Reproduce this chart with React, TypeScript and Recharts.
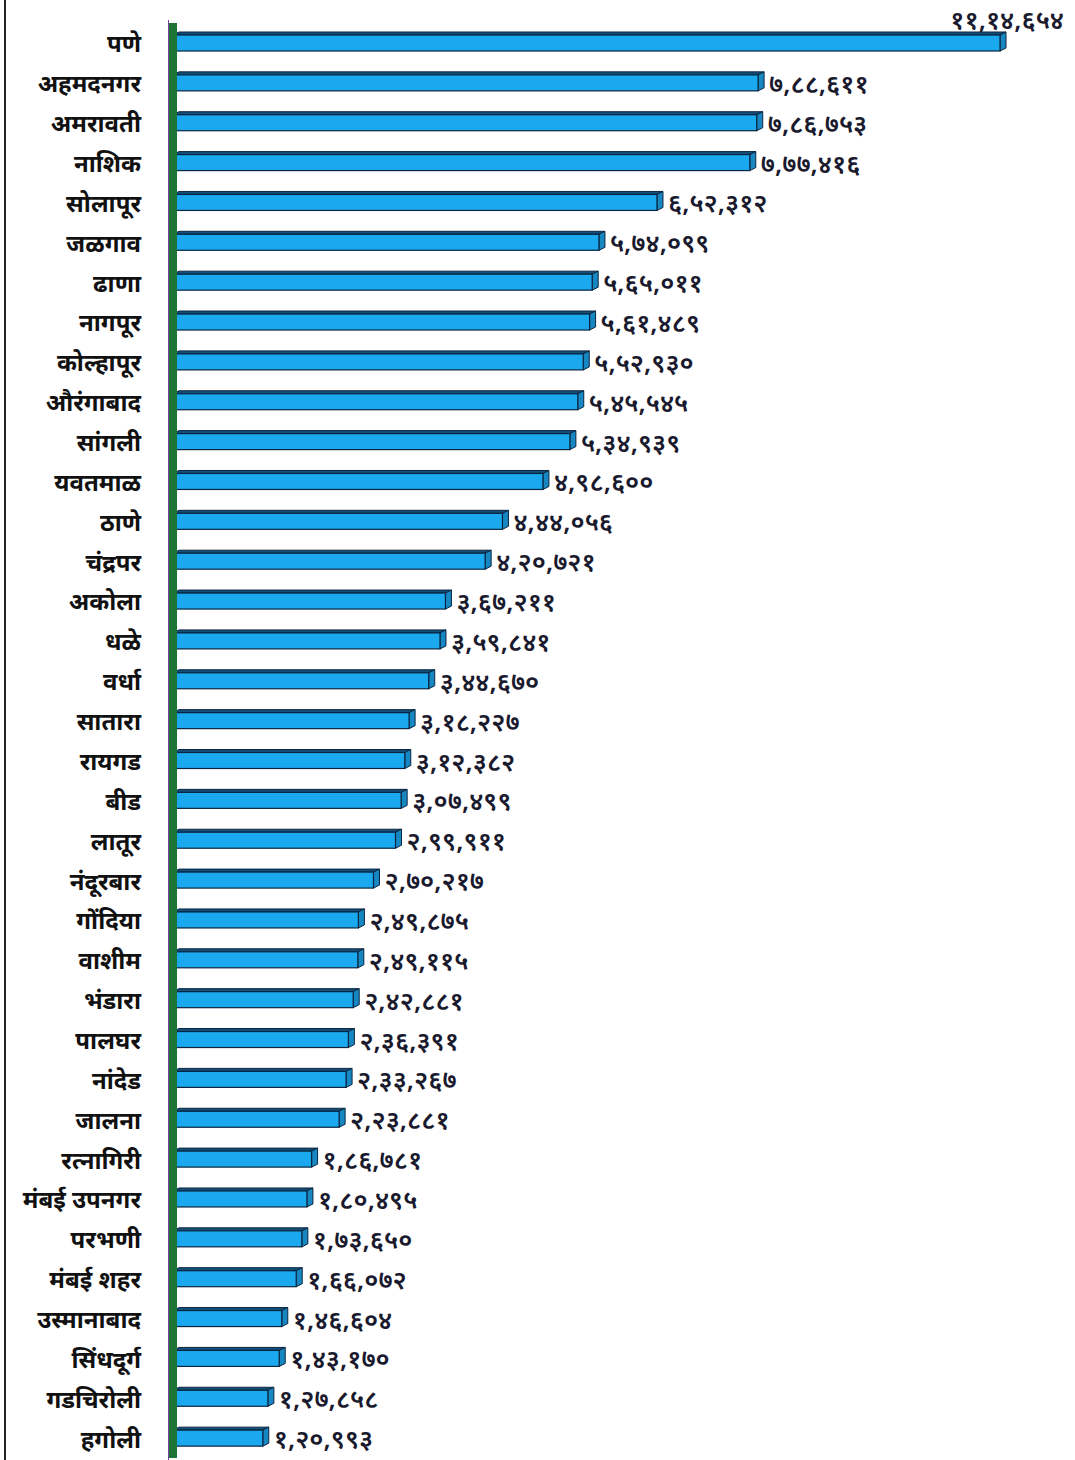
import React from 'react'
import { BarChart, Bar, XAxis, YAxis, LabelList } from 'recharts'

// जिल्हानिहाय आकडे (as printed on the chart)
const districts = [
  'पणे', 'अहमदनगर', 'अमरावती', 'नाशिक', 'सोलापूर', 'जळगाव', 'ढाणा', 'नागपूर', 'कोल्हापूर',
  'औरंगाबाद', 'सांगली', 'यवतमाळ', 'ठाणे', 'चंद्रपर', 'अकोला', 'धळे', 'वर्धा', 'सातारा',
  'रायगड', 'बीड', 'लातूर', 'नंदूरबार', 'गोंदिया', 'वाशीम', 'भंडारा', 'पालघर', 'नांदेड',
  'जालना', 'रत्नागिरी', 'मंबई उपनगर', 'परभणी', 'मंबई शहर', 'उस्मानाबाद', 'सिंधदूर्ग',
  'गडचिरोली', 'हगोली',
]

const counts = [
  1114654, 788611, 786753, 777416, 652312, 574099, 565011, 561489, 552930,
  545545, 534939, 498600, 444056, 420721, 367211, 359841, 344670, 318227,
  312382, 307499, 299911, 270217, 249875, 249115, 242881, 236391, 233267,
  223881, 186781, 180495, 173650, 166072, 146604, 143170,
  127858, 120993,
]

const xDomain = [0, 1114654]

const data = districts.map((name, i) => ({ name, value: counts[i] }))

const devaDigits = '०१२३४५६७८९'

// Indian grouping (xx,xx,xxx) with Devanagari digits
function formatMarathi(n: number) {
  const s = String(n)
  let last3 = s.slice(-3)
  let rest = s.slice(0, -3)
  const parts: string[] = []
  while (rest.length > 2) {
    parts.unshift(rest.slice(-2))
    rest = rest.slice(0, -2)
  }
  if (rest) parts.unshift(rest)
  const out = parts.length ? parts.join(',') + ',' + last3 : last3
  return out.replace(/[0-9]/g, (d) => devaDigits[Number(d)])
}

const FONT = '"Noto Sans", "Noto Sans Devanagari", Lohit, sans-serif'
const DX = 6
const DY = 3

const Bar3D = (props: any) => {
  const { x, y, width, height } = props
  if (width == null || width <= 0) return null
  return (
    <g>
      <polygon
        points={`${x},${y} ${x + DX},${y - DY} ${x + width + DX},${y - DY} ${x + width},${y}`}
        fill="#12507a"
        stroke="#0a2540"
        strokeWidth={1}
      />
      <polygon
        points={`${x + width},${y} ${x + width + DX},${y - DY} ${x + width + DX},${y + height - DY} ${x + width},${y + height}`}
        fill="#1787c2"
        stroke="#0a2540"
        strokeWidth={1}
      />
      <rect x={x} y={y} width={width} height={height} fill="#1aa8ee" stroke="#0a2540" strokeWidth={1.2} />
    </g>
  )
}

const ValueLabel = (props: any) => {
  const { x, y, width, height, value, index } = props
  if (index === 0) {
    return (
      <text x={1064} y={y - 16} textAnchor="end" dominantBaseline="central"
        fontFamily={FONT} fontSize={26} fontWeight={600} fill="#1a1a2e">
        {formatMarathi(value)}
      </text>
    )
  }
  return (
    <text x={x + width + DX + 5} y={y + height / 2} textAnchor="start" dominantBaseline="central"
      fontFamily={FONT} fontSize={26} fontWeight={600} fill="#1a1a2e">
      {formatMarathi(value)}
    </text>
  )
}

const DistrictTick = (props: any) => {
  const { x, y, payload } = props
  return (
    <text x={x - 24} y={y} textAnchor="end" dominantBaseline="central"
      fontFamily={FONT} fontSize={24} fontWeight={700} fill="#111">
      {payload.value}
    </text>
  )
}

export default function App() {
  return (
    <div style={{ position: 'absolute', left: 0, top: 0, width: 1075, height: 1460, background: '#fff' }}>
      <div style={{ position: 'absolute', left: 4, top: 0, width: 2, height: 1460, background: '#222' }} />
      <div style={{ position: 'absolute', left: 168, top: 20, width: 1, height: 1440, background: '#7a3fa0' }} />
      <BarChart
        width={1075}
        height={1460}
        data={data}
        layout="vertical"
        margin={{ top: 23, right: 75, left: 0, bottom: 2 }}
        barSize={16}
      >
        <XAxis type="number" domain={xDomain} hide />
        <YAxis
          type="category"
          dataKey="name"
          width={173}
          tickLine={false}
          axisLine={{ stroke: '#1c7536', strokeWidth: 8 }}
          tick={<DistrictTick />}
          interval={0}
        />
        <Bar dataKey="value" shape={<Bar3D />} isAnimationActive={false}>
          <LabelList dataKey="value" content={<ValueLabel />} />
        </Bar>
      </BarChart>
    </div>
  )
}
